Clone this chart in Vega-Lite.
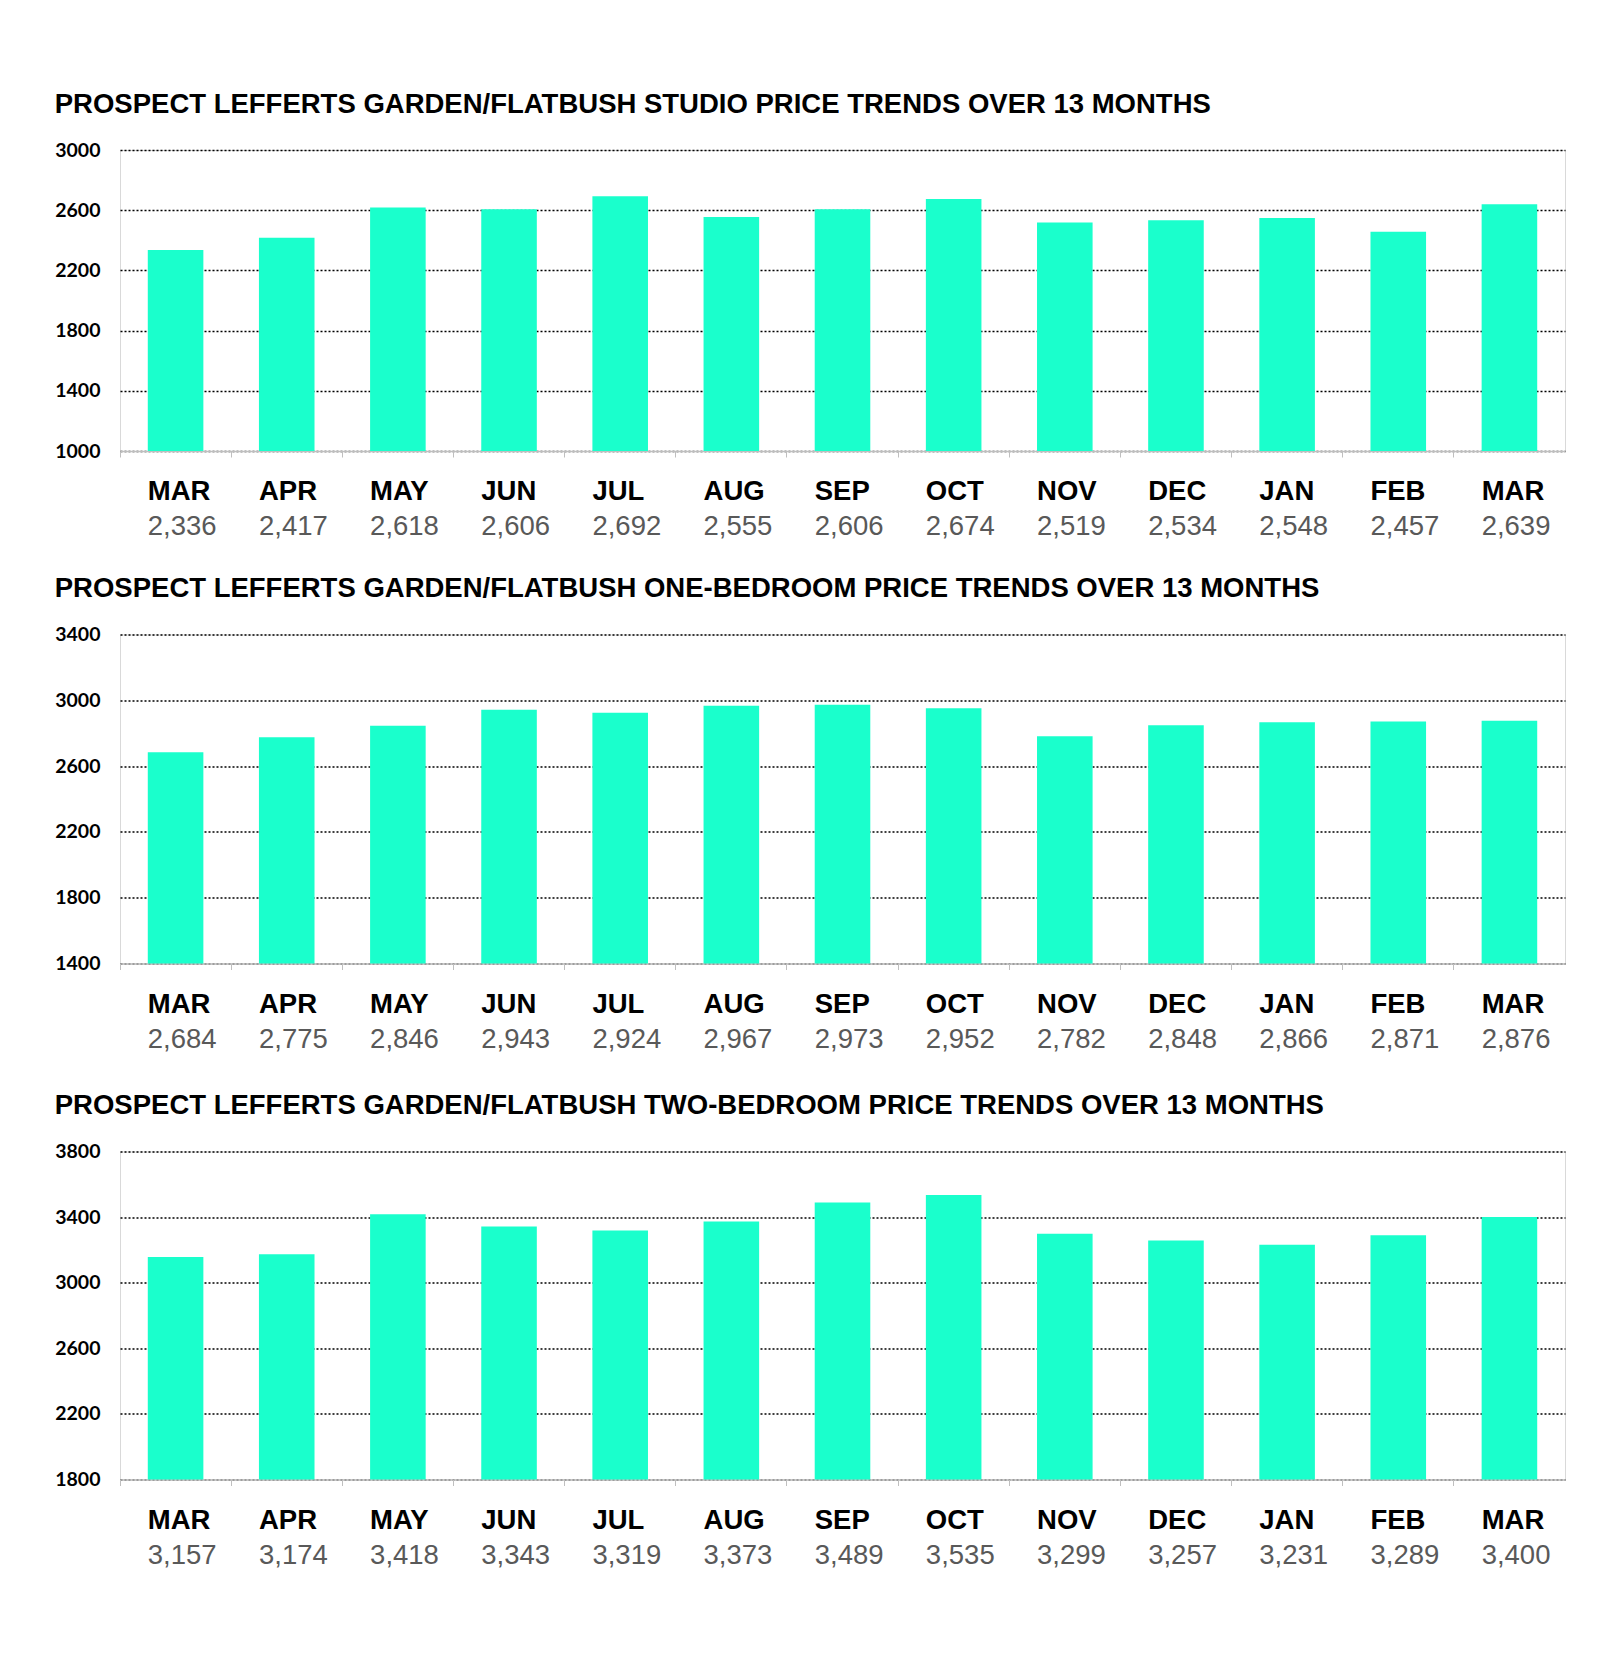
{
  "$schema": "https://vega.github.io/schema/vega-lite/v6.json",
  "background": "white",
  "padding": {"top": 90, "left": 54, "right": 36, "bottom": 0},
  "spacing": 33.5,
  "config": {
    "view": {"stroke": "#d9d9d9", "strokeWidth": 1},
    "title": {"font": "Liberation Sans", "fontSize": 27.5, "fontWeight": "bold", "color": "#000000", "anchor": "start", "frame": "bounds", "offset": 22},
    "axisY": {"domain": false, "ticks": false, "grid": true, "gridColor": "#000000", "gridDash": [2, 2], "gridWidth": 1.3, "labelFont": "Lato", "labelFontWeight": "bold", "labelFontSize": 19.5, "labelColor": "#000000", "labelPadding": 20, "format": "d", "title": null},
    "axisX": {"labels": false, "title": null, "domainColor": "#bfbfbf", "domainWidth": 1.5, "tickColor": "#bfbfbf", "tickSize": 6, "bandPosition": -0.5, "grid": false}
  },
  "datasets": {
    "studio": [
      {"slot": 1, "month": "MAR", "value": 2336},
      {"slot": 2, "month": "APR", "value": 2417},
      {"slot": 3, "month": "MAY", "value": 2618},
      {"slot": 4, "month": "JUN", "value": 2606},
      {"slot": 5, "month": "JUL", "value": 2692},
      {"slot": 6, "month": "AUG", "value": 2555},
      {"slot": 7, "month": "SEP", "value": 2606},
      {"slot": 8, "month": "OCT", "value": 2674},
      {"slot": 9, "month": "NOV", "value": 2519},
      {"slot": 10, "month": "DEC", "value": 2534},
      {"slot": 11, "month": "JAN", "value": 2548},
      {"slot": 12, "month": "FEB", "value": 2457},
      {"slot": 13, "month": "MAR", "value": 2639}
    ],
    "onebed": [
      {"slot": 1, "month": "MAR", "value": 2684},
      {"slot": 2, "month": "APR", "value": 2775},
      {"slot": 3, "month": "MAY", "value": 2846},
      {"slot": 4, "month": "JUN", "value": 2943},
      {"slot": 5, "month": "JUL", "value": 2924},
      {"slot": 6, "month": "AUG", "value": 2967},
      {"slot": 7, "month": "SEP", "value": 2973},
      {"slot": 8, "month": "OCT", "value": 2952},
      {"slot": 9, "month": "NOV", "value": 2782},
      {"slot": 10, "month": "DEC", "value": 2848},
      {"slot": 11, "month": "JAN", "value": 2866},
      {"slot": 12, "month": "FEB", "value": 2871},
      {"slot": 13, "month": "MAR", "value": 2876}
    ],
    "twobed": [
      {"slot": 1, "month": "MAR", "value": 3157},
      {"slot": 2, "month": "APR", "value": 3174},
      {"slot": 3, "month": "MAY", "value": 3418},
      {"slot": 4, "month": "JUN", "value": 3343},
      {"slot": 5, "month": "JUL", "value": 3319},
      {"slot": 6, "month": "AUG", "value": 3373},
      {"slot": 7, "month": "SEP", "value": 3489},
      {"slot": 8, "month": "OCT", "value": 3535},
      {"slot": 9, "month": "NOV", "value": 3299},
      {"slot": 10, "month": "DEC", "value": 3257},
      {"slot": 11, "month": "JAN", "value": 3231},
      {"slot": 12, "month": "FEB", "value": 3289},
      {"slot": 13, "month": "MAR", "value": 3400}
    ]
  },
  "vconcat": [
    {
      "title": "PROSPECT LEFFERTS GARDEN/FLATBUSH STUDIO PRICE TRENDS OVER 13 MONTHS",
      "width": 1445, "height": 301,
      "data": {"name": "studio"},
      "encoding": {
        "x": {"field": "slot", "type": "ordinal", "scale": {"paddingInner": 0.5, "paddingOuter": 0.25}}
      },
      "layer": [
        {"mark": {"type": "bar", "color": "#1affcc", "clip": true},
         "encoding": {"y": {"field": "value", "type": "quantitative", "scale": {"domain": [1000, 3000], "nice": false, "zero": false}, "axis": {"values": [1000, 1400, 1800, 2200, 2600, 3000]}}}},
        {"mark": {"type": "text", "font": "Liberation Sans", "fontSize": 27.5, "fontWeight": "bold", "color": "#000000", "dy": 41, "dx": 0, "align": "left", "baseline": "middle"},
         "encoding": {"x": {"field": "slot", "type": "ordinal", "bandPosition": 0}, "y": {"datum": 1000}, "text": {"field": "month"}}},
        {"mark": {"type": "text", "font": "Liberation Sans", "fontSize": 27.5, "color": "#595959", "dy": 76, "dx": 0, "align": "left", "baseline": "middle"},
         "encoding": {"x": {"field": "slot", "type": "ordinal", "bandPosition": 0}, "y": {"datum": 1000}, "text": {"field": "value", "format": ","}}}
      ]
    },
    {
      "spacing": 38,
      "vconcat": [
        {
          "title": "PROSPECT LEFFERTS GARDEN/FLATBUSH ONE-BEDROOM PRICE TRENDS OVER 13 MONTHS",
          "width": 1445, "height": 329,
          "data": {"name": "onebed"},
          "encoding": {
            "x": {"field": "slot", "type": "ordinal", "scale": {"paddingInner": 0.5, "paddingOuter": 0.25}}
          },
          "layer": [
            {"mark": {"type": "bar", "color": "#1affcc", "clip": true},
             "encoding": {"y": {"field": "value", "type": "quantitative", "scale": {"domain": [1400, 3400], "nice": false, "zero": false}, "axis": {"values": [1400, 1800, 2200, 2600, 3000, 3400]}}}},
            {"mark": {"type": "text", "font": "Liberation Sans", "fontSize": 27.5, "fontWeight": "bold", "color": "#000000", "dy": 41, "dx": 0, "align": "left", "baseline": "middle"},
             "encoding": {"x": {"field": "slot", "type": "ordinal", "bandPosition": 0}, "y": {"datum": 1400}, "text": {"field": "month"}}},
            {"mark": {"type": "text", "font": "Liberation Sans", "fontSize": 27.5, "color": "#595959", "dy": 76, "dx": 0, "align": "left", "baseline": "middle"},
             "encoding": {"x": {"field": "slot", "type": "ordinal", "bandPosition": 0}, "y": {"datum": 1400}, "text": {"field": "value", "format": ","}}}
          ]
        },
        {
          "title": "PROSPECT LEFFERTS GARDEN/FLATBUSH TWO-BEDROOM PRICE TRENDS OVER 13 MONTHS",
          "width": 1445, "height": 328,
          "data": {"name": "twobed"},
          "encoding": {
            "x": {"field": "slot", "type": "ordinal", "scale": {"paddingInner": 0.5, "paddingOuter": 0.25}}
          },
          "layer": [
            {"mark": {"type": "bar", "color": "#1affcc", "clip": true},
             "encoding": {"y": {"field": "value", "type": "quantitative", "scale": {"domain": [1800, 3800], "nice": false, "zero": false}, "axis": {"values": [1800, 2200, 2600, 3000, 3400, 3800]}}}},
            {"mark": {"type": "text", "font": "Liberation Sans", "fontSize": 27.5, "fontWeight": "bold", "color": "#000000", "dy": 41, "dx": 0, "align": "left", "baseline": "middle"},
             "encoding": {"x": {"field": "slot", "type": "ordinal", "bandPosition": 0}, "y": {"datum": 1800}, "text": {"field": "month"}}},
            {"mark": {"type": "text", "font": "Liberation Sans", "fontSize": 27.5, "color": "#595959", "dy": 76, "dx": 0, "align": "left", "baseline": "middle"},
             "encoding": {"x": {"field": "slot", "type": "ordinal", "bandPosition": 0}, "y": {"datum": 1800}, "text": {"field": "value", "format": ","}}}
          ]
        }
      ]
    }
  ]
}
